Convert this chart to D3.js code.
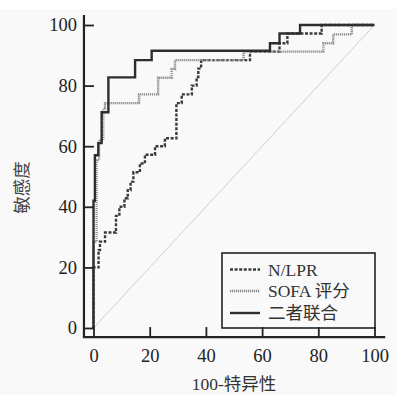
<!DOCTYPE html>
<html>
<head>
<meta charset="utf-8">
<script src="https://cdn.jsdelivr.net/npm/d3@7"></script>
<style>
  html, body { margin: 0; padding: 0; background: #fff; }
  svg { display: block; }
  text { font-family: "Liberation Serif", "Times New Roman", "Noto Sans CJK SC", serif; fill: #222; }
</style>
</head>
<body>
<svg id="roc" width="397" height="395"></svg>
<script>
// ROC corner points: step right to fpr, then up to tpr
const fprNLPR = [0, 0, 1.8, 2.3, 4.1, 8, 9.2, 11, 12.2, 13.2, 14.2, 16.5, 18.3, 21.9, 25.4, 29.5, 31.4, 35, 36.7, 37.3, 38.3, 55.7, 66.2, 69, 81.2, 100];
const tprNLPR = [0, 20, 25.7, 28.5, 31.5, 37, 40, 42.8, 45.5, 48.3, 51.4, 54.3, 57.2, 60, 62.6, 74.2, 77.1, 80, 82.8, 85.6, 88.4, 91.2, 94, 97.2, 100, 100];

const fprSOFA = [0, 0, 1.1, 2, 3.5, 4.1, 16.2, 23, 27.8, 29, 53.4, 81.8, 85.3, 91.9, 100];
const tprSOFA = [0, 28.5, 55.4, 62, 72.5, 74.2, 77.1, 82.6, 85.5, 88.4, 91.2, 94, 96.9, 100, 100];

const fprBoth = [0, 0, 0.5, 1.7, 2.9, 5.3, 14.8, 20.7, 62.8, 66.2, 73.5, 100];
const tprBoth = [0, 42, 57, 61, 71.2, 82.7, 88.4, 91.5, 94, 97.2, 100, 100];

const seriesNames = ["N/LPR", "SOFA 评分", "二者联合"];
const majorTicks = [0, 20, 40, 60, 80, 100];
const xTitle = "100-特异性";
const yTitle = "敏感度";

const FONT = '"Liberation Serif", "Times New Roman", "Noto Sans CJK SC", serif';

const svg = d3.select("#roc");

svg.append("rect")
  .attr("x", 0).attr("y", 9)
  .attr("width", 397).attr("height", 386)
  .attr("fill", "#f9f9f9");

const x = d3.scaleLinear().domain([0, 100]).range([93.5, 374.5]);
const y = d3.scaleLinear().domain([0, 100]).range([328, 25]);

const axisX = x(-3.4);   // where the y axis line sits
const axisY = y(-3);     // where the x axis line sits

const styles = [
  { color: "#3a3a3a", width: 2.4, dash: "3,1.6" },
  { color: "#8a8a8a", width: 2.4, dash: "1.2,0.8" },
  { color: "#2e2e2e", width: 2.4, dash: null }
];

// chance line
svg.append("line")
  .attr("x1", x(0)).attr("y1", y(0))
  .attr("x2", x(100)).attr("y2", y(100))
  .attr("stroke", "#dccccc")
  .attr("stroke-width", 1);

const line = d3.line()
  .x(d => x(d[0]))
  .y(d => y(d[1]))
  .curve(d3.curveStepAfter);

const curves = [
  d3.zip(fprNLPR, tprNLPR),
  d3.zip(fprSOFA, tprSOFA),
  d3.zip(fprBoth, tprBoth)
];

curves.forEach((pts, i) => {
  svg.append("path")
    .datum(pts)
    .attr("fill", "none")
    .attr("stroke", styles[i].color)
    .attr("stroke-width", styles[i].width)
    .attr("stroke-dasharray", styles[i].dash)
    .attr("d", line);
});

// axes
const minorTicks = d3.range(0, 101, 5);

const gy = svg.append("g").attr("transform", `translate(${axisX},0)`);
gy.call(d3.axisLeft(y).tickValues(minorTicks).tickSize(-5.5).tickFormat(""));
gy.call(d3.axisLeft(y).tickValues(majorTicks).tickSize(-10).tickPadding(7));

const gx = svg.append("g").attr("transform", `translate(0,${axisY})`);
gx.call(d3.axisBottom(x).tickValues(minorTicks).tickSize(-5.5).tickFormat(""));
gx.call(d3.axisBottom(x).tickValues(majorTicks).tickSize(-10).tickPadding(12));

svg.selectAll(".domain").remove();
svg.selectAll(".tick line").attr("stroke", "#222").attr("stroke-width", 1.8);
svg.selectAll(".tick text")
  .style("font-family", FONT)
  .style("font-size", "18.5px")
  .style("fill", "#222");

svg.append("line")
  .attr("x1", axisX).attr("x2", axisX)
  .attr("y1", y(103.3)).attr("y2", axisY + 1)
  .attr("stroke", "#222").attr("stroke-width", 2.2);
svg.append("line")
  .attr("x1", axisX - 1).attr("x2", x(103.8))
  .attr("y1", axisY).attr("y2", axisY)
  .attr("stroke", "#222").attr("stroke-width", 2.2);

// titles
svg.append("text")
  .attr("x", (x(0) + x(100)) / 2)
  .attr("y", 390)
  .attr("text-anchor", "middle")
  .style("font-size", "17.5px")
  .style("fill", "#333")
  .text(xTitle);

svg.append("text")
  .attr("transform", `translate(28,${(y(0) + y(100)) / 2 + 11}) rotate(-90)`)
  .attr("text-anchor", "middle")
  .style("font-size", "17.5px")
  .style("fill", "#444")
  .text(yTitle);

// legend
const lg = svg.append("g");
lg.append("rect")
  .attr("x", 222).attr("y", 253)
  .attr("width", 153).attr("height", 75)
  .attr("fill", "none")
  .attr("stroke", "#222")
  .attr("stroke-width", 1.6);

const rowY = [269.5, 291, 313];
seriesNames.forEach((name, i) => {
  lg.append("line")
    .attr("x1", 230).attr("x2", 260)
    .attr("y1", rowY[i]).attr("y2", rowY[i])
    .attr("stroke", styles[i].color)
    .attr("stroke-width", styles[i].width)
    .attr("stroke-dasharray", styles[i].dash);
  lg.append("text")
    .attr("x", 268)
    .attr("y", rowY[i] + 6)
    .style("font-size", "17.5px")
    .style("fill", "#333")
    .text(name);
});
</script>
</body>
</html>
